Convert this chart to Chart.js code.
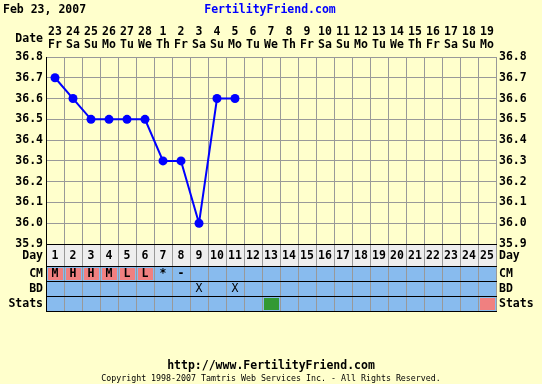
<!DOCTYPE html>
<html>
<head>
<meta charset="utf-8">
<script src="https://cdn.jsdelivr.net/npm/chart.js@4"></script>
<style>
  html, body { margin: 0; padding: 0; background: #FFFFCC; }
  #wrap { width: 542px; height: 384px; }
</style>
</head>
<body>
<div id="wrap"><canvas id="bbt" width="542" height="384"></canvas></div>
<script>
// chart data
const dates = ['23','24','25','26','27','28','1','2','3','4','5','6','7','8','9','10','11','12','13','14','15','16','17','18','19'];
const weekdays = ['Fr','Sa','Su','Mo','Tu','We','Th','Fr','Sa','Su','Mo','Tu','We','Th','Fr','Sa','Su','Mo','Tu','We','Th','Fr','Sa','Su','Mo'];
const temps = [36.7, 36.6, 36.5, 36.5, 36.5, 36.5, 36.3, 36.3, 36.0, 36.6, 36.6];
const cmValues = ['M','H','H','M','L','L','*','-'];
const cmPink = [true, true, true, true, true, true, false, false];
const bdDays = [9, 11];
const statsCells = [{ day: 13, color: '#339933' }, { day: 25, color: '#F08080' }];
const tempMin = 35.9, tempMax = 36.8;

const MONO = '"DejaVu Sans Mono", "Liberation Mono", monospace';
const BOLD = 'bold 11.5px ' + MONO;
const GRID = '#999999';
const BLUE_CELL = '#88BBEE';

const dayCount = dates.length;
const edges = [];
for (let i = 0; i <= dayCount; i++) edges.push(i + 0.5);

/**
 * Header, table rows and footer drawn around the plot area
 */
const frame = {
    id: 'frame',
    beforeDraw(chart) {
        const ctx = chart.ctx;
        ctx.save();
        ctx.fillStyle = '#FFFFCC';
        ctx.fillRect(0, 0, chart.width, chart.height);
        ctx.restore();
    },
    afterDraw(chart) {
        const ctx = chart.ctx;
        const x = chart.scales.x;
        const area = chart.chartArea;
        const left = area.left, right = area.right;
        const rows = [
            { name: 'Day', top: area.bottom, h: 22 },
            { name: 'CM', top: area.bottom + 22, h: 15 },
            { name: 'BD', top: area.bottom + 37, h: 15 },
            { name: 'Stats', top: area.bottom + 52, h: 15 }
        ];
        ctx.save();

        // title
        ctx.font = BOLD;
        ctx.textBaseline = 'middle';
        ctx.fillStyle = '#000';
        ctx.textAlign = 'left';
        ctx.fillText('Feb 23, 2007', 3, 10);
        ctx.fillStyle = '#0000FF';
        ctx.textAlign = 'center';
        ctx.fillText('FertilityFriend.com', 270, 10);
        ctx.fillStyle = '#000';
        ctx.textAlign = 'right';
        ctx.fillText('Date', left - 3, 39);

        // date header over every column
        ctx.textAlign = 'center';
        dates.forEach((d, i) => {
            const cx = x.getPixelForValue(i + 1);
            ctx.fillText(d, cx, 32);
            ctx.fillText(weekdays[i], cx, 45);
        });

        // row backgrounds
        rows.forEach((r, i) => {
            ctx.fillStyle = i === 0 ? '#EEEEEE' : BLUE_CELL;
            ctx.fillRect(left, r.top, right - left, r.h);
        });

        // coloured cells
        const cellX = d => [x.getPixelForValue(d - 0.5), x.getPixelForValue(d + 0.5)];
        cmValues.forEach((v, i) => {
            if (!cmPink[i]) return;
            const [a, b] = cellX(i + 1);
            ctx.fillStyle = '#F08080';
            ctx.fillRect(a + 2, rows[1].top + 2, b - a - 3, rows[1].h - 3);
        });
        statsCells.forEach(s => {
            const [a, b] = cellX(s.day);
            ctx.fillStyle = s.color;
            ctx.fillRect(a + 2, rows[3].top + 2, b - a - 3, rows[3].h - 3);
        });

        // vertical cell lines
        ctx.strokeStyle = GRID;
        ctx.lineWidth = 1;
        edges.forEach(e => {
            const px = Math.round(x.getPixelForValue(e)) + 0.5;
            ctx.beginPath();
            ctx.moveTo(px, area.bottom);
            ctx.lineTo(px, rows[3].top + rows[3].h);
            ctx.stroke();
        });
        // black borders
        ctx.strokeStyle = '#000';
        rows.forEach(r => {
            ctx.beginPath();
            ctx.moveTo(left, Math.round(r.top) + 0.5);
            ctx.lineTo(right + 1, Math.round(r.top) + 0.5);
            ctx.stroke();
        });
        const last = rows[3].top + rows[3].h;
        ctx.beginPath();
        ctx.moveTo(left, Math.round(last) + 0.5);
        ctx.lineTo(right + 1, Math.round(last) + 0.5);
        ctx.moveTo(Math.round(left) + 0.5, area.bottom);
        ctx.lineTo(Math.round(left) + 0.5, last);
        ctx.stroke();

        // texts in the table
        ctx.fillStyle = '#000';
        ctx.font = BOLD;
        ctx.textBaseline = 'middle';
        ctx.textAlign = 'center';
        for (let d = 1; d <= dayCount; d++) {
            ctx.fillText(String(d), x.getPixelForValue(d), rows[0].top + rows[0].h / 2 + 1);
        }
        cmValues.forEach((v, i) => {
            ctx.fillText(v, x.getPixelForValue(i + 1), rows[1].top + rows[1].h / 2 + 1);
        });
        ctx.font = '11.5px ' + MONO;
        bdDays.forEach(d => {
            ctx.fillText('X', x.getPixelForValue(d), rows[2].top + rows[2].h / 2 + 1);
        });
        ctx.font = BOLD;
        rows.forEach(r => {
            ctx.textAlign = 'right';
            ctx.fillText(r.name, left - 3, r.top + r.h / 2 + 1);
            ctx.textAlign = 'left';
            ctx.fillText(r.name, right + 3, r.top + r.h / 2 + 1);
        });

        // footer
        ctx.textAlign = 'center';
        ctx.fillText('http://www.FertilityFriend.com', 271, 366);
        ctx.font = '8.3px ' + MONO;
        ctx.fillText('Copyright 1998-2007 Tamtris Web Services Inc. - All Rights Reserved.', 271, 379);
        ctx.restore();
    }
};

const tempTick = v => Number(v).toFixed(1);

new Chart(document.getElementById('bbt'), {
    type: 'line',
    data: {
        datasets: [{
            data: temps.map((t, i) => ({ x: i + 1, y: t })),
            borderColor: '#0000FF',
            backgroundColor: '#0000FF',
            borderWidth: 2,
            pointRadius: 4.5,
            pointBorderWidth: 0,
            pointHoverRadius: 4.5,
            tension: 0
        }]
    },
    options: {
        responsive: false,
        animation: false,
        events: [],
        layout: { padding: { top: 57, bottom: 140, left: 0, right: 0 } },
        plugins: { legend: { display: false }, tooltip: { enabled: false } },
        scales: {
            x: {
                type: 'linear',
                min: 0.5,
                max: dayCount + 0.5,
                afterBuildTicks: s => { s.ticks = edges.map(v => ({ value: v })); },
                afterFit: s => { s.height = 0; },
                ticks: { display: false },
                grid: { color: GRID, drawTicks: false },
                border: { display: false }
            },
            y: {
                min: tempMin,
                max: tempMax,
                afterFit: s => { s.width = 46; },
                ticks: {
                    stepSize: 0.1,
                    padding: 3,
                    color: '#000',
                    font: { family: MONO, size: 11.5, weight: 'bold' },
                    callback: tempTick
                },
                grid: { color: GRID, drawTicks: false },
                border: { color: '#000', width: 1 }
            },
            y2: {
                position: 'right',
                min: tempMin,
                max: tempMax,
                afterFit: s => { s.width = 46; },
                ticks: {
                    stepSize: 0.1,
                    padding: 3,
                    color: '#000',
                    font: { family: MONO, size: 11.5, weight: 'bold' },
                    callback: tempTick
                },
                grid: { display: false, drawTicks: false },
                border: { display: false }
            }
        }
    },
    plugins: [frame]
});
</script>
</body>
</html>
